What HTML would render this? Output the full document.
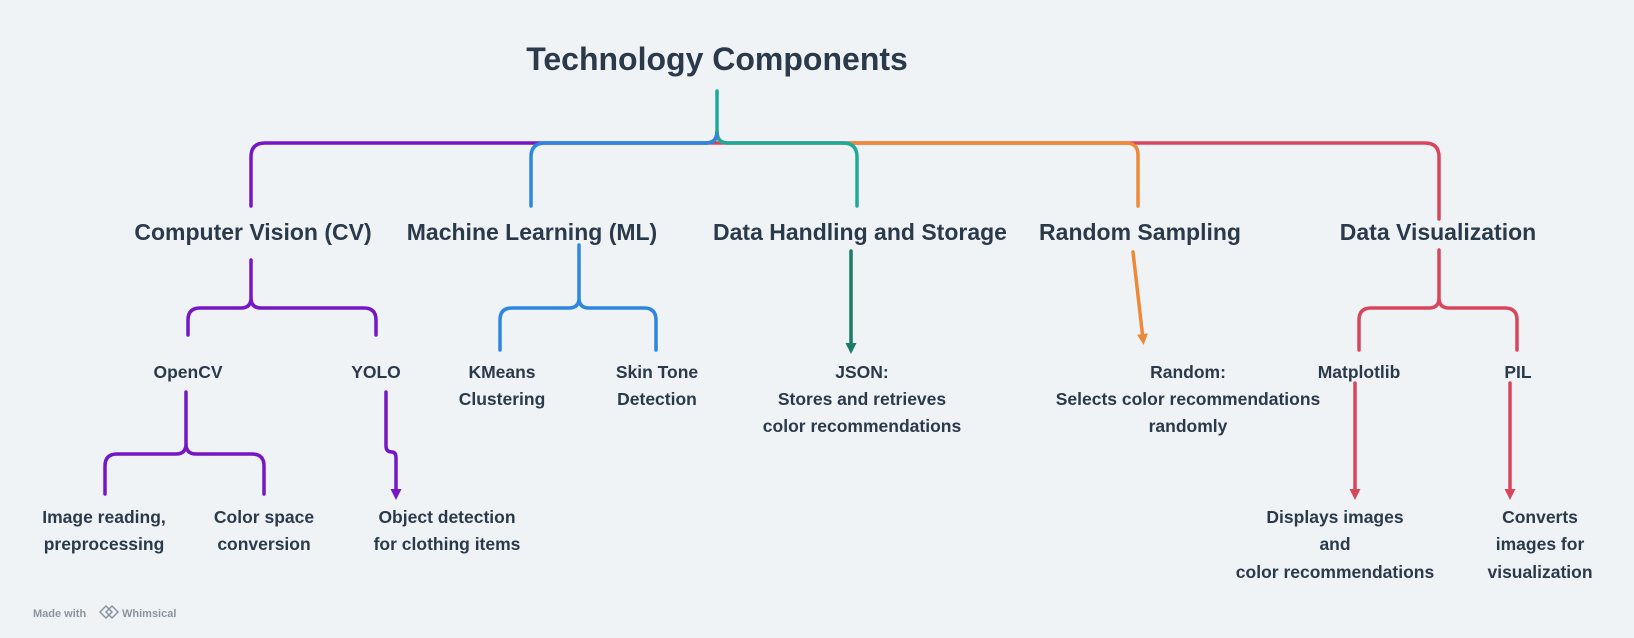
<!DOCTYPE html>
<html><head><meta charset="utf-8"><style>
html,body{margin:0;padding:0;background:#eff3f6;}
svg{display:block;}
text{font-family:"Liberation Sans",sans-serif;font-weight:bold;fill:#2b3a4b;text-anchor:middle;}
</style></head><body>
<svg width="1634" height="638" viewBox="0 0 1634 638" xmlns="http://www.w3.org/2000/svg">
<defs>
<marker id="ar" markerWidth="12" markerHeight="12" refX="5" refY="6" orient="auto" markerUnits="userSpaceOnUse"><path d="M0,0.5 L11,6 L0,11.5 z" fill="context-stroke"/></marker>
</defs>
<g fill="none" stroke-width="3.5" stroke-linecap="round">
<path d="M717,132 Q717,143 706,143 L1425,143 Q1439,143 1439,157 L1439,219" stroke="#d8465d"/>
<path d="M717,132 Q717,143 728,143 L1126,143 Q1138,143 1138,155 L1138,206" stroke="#ec8a3a"/>
<path d="M717,132 Q717,143 728,143 L843,143 Q857,143 857,157 L857,206" stroke="#1eaa9a"/>
<path d="M717,132 Q717,143 706,143 L265,143 Q251,143 251,157 L251,206" stroke="#7517c4"/>
<path d="M717,132 Q717,143 706,143 L545,143 Q531,143 531,157 L531,206" stroke="#2e86de"/>
<path d="M717,91 L717,132" stroke="#1eaa9a"/>
<path d="M251,260 L251,298 Q251,308 241,308 L200,308 Q188,308 188,320 L188,335 M251,298 Q251,308 261,308 L364,308 Q376,308 376,320 L376,335" stroke="#7517c4"/>
<path d="M186,392 L186,444 Q186,454 176,454 L117,454 Q105,454 105,466 L105,494 M186,444 Q186,454 196,454 L252,454 Q264,454 264,466 L264,494" stroke="#7517c4"/>
<path d="M386,392 L386,446 Q386,452 392,452 Q396,452 396,458 L396,494" stroke="#7517c4" marker-end="url(#ar)"/>
<path d="M579,245 L579,298 Q579,308 569,308 L512,308 Q500,308 500,320 L500,350 M579,298 Q579,308 589,308 L644,308 Q656,308 656,320 L656,350" stroke="#2e86de"/>
<path d="M851,251 L851,348" stroke="#1b7a68" marker-end="url(#ar)"/>
<path d="M1133,252 L1143,339" stroke="#ec8a3a" marker-end="url(#ar)"/>
<path d="M1439,250 L1439,298 Q1439,308 1429,308 L1371,308 Q1359,308 1359,320 L1359,350 M1439,298 Q1439,308 1449,308 L1505,308 Q1517,308 1517,320 L1517,350" stroke="#d8465d"/>
<path d="M1355,383 L1355,494" stroke="#d8465d" marker-end="url(#ar)"/>
<path d="M1510,383 L1510,494" stroke="#d8465d" marker-end="url(#ar)"/>
</g>
<text x="717" y="70" font-size="32">Technology Components</text>
<g font-size="23">
<text x="253" y="240">Computer Vision (CV)</text>
<text x="532" y="240">Machine Learning (ML)</text>
<text x="860" y="240">Data Handling and Storage</text>
<text x="1140" y="240">Random Sampling</text>
<text x="1438" y="240">Data Visualization</text>
</g>
<g font-size="17.5">
<text x="188" y="378">OpenCV</text>
<text x="376" y="378">YOLO</text>
<text x="502" y="378">KMeans</text><text x="502" y="405">Clustering</text>
<text x="657" y="378">Skin Tone</text><text x="657" y="405">Detection</text>
<text x="862" y="378">JSON:</text><text x="862" y="405">Stores and retrieves</text><text x="862" y="432">color recommendations</text>
<text x="1188" y="378">Random:</text><text x="1188" y="405">Selects color recommendations</text><text x="1188" y="432">randomly</text>
<text x="1359" y="378">Matplotlib</text>
<text x="1518" y="378">PIL</text>
<text x="104" y="523">Image reading,</text><text x="104" y="550">preprocessing</text>
<text x="264" y="523">Color space</text><text x="264" y="550">conversion</text>
<text x="447" y="523">Object detection</text><text x="447" y="550">for clothing items</text>
<text x="1335" y="523">Displays images</text><text x="1335" y="550">and</text><text x="1335" y="578">color recommendations</text>
<text x="1540" y="523">Converts</text><text x="1540" y="550">images for</text><text x="1540" y="578">visualization</text>
</g>
<text x="33" y="617" font-size="11" style="text-anchor:start;fill:#8a949e">Made with</text>
<path d="M100,612 l6,-6 l6,6 l-6,6 z M106,612 l6,-6 l6,6 l-6,6 z" fill="none" stroke="#8a949e" stroke-width="1.5"/>
<text x="122" y="617" font-size="11" style="text-anchor:start;fill:#8a949e">Whimsical</text>
</svg>
</body></html>
